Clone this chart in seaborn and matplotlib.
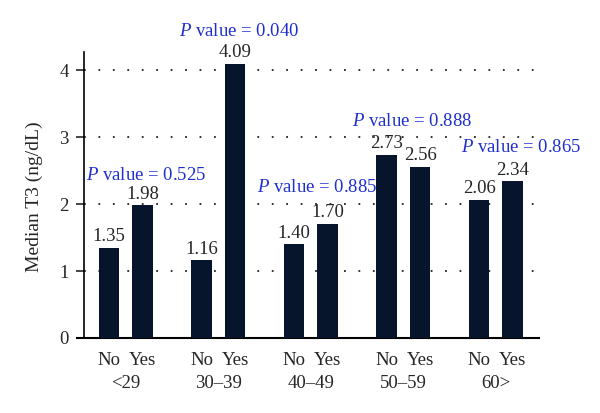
import matplotlib
matplotlib.use("Agg")
import matplotlib.pyplot as plt
import matplotlib.transforms as mtransforms
import seaborn as sns
import pandas as pd

groups = ["<29", "30\u201339", "40\u201349", "50\u201359", "60>"]
status = ["No", "Yes"]
no_vals = [1.35, 1.16, 1.40, 2.73, 2.06]
yes_vals = [1.98, 4.09, 1.70, 2.56, 2.34]
p_labels = ["0.525", "0.040", "0.885", "0.888", "0.865"]
p_pos = [(0.22, 2.36), (0.22, 4.51), (0.07, 2.18), (0.09, 3.16), (0.27, 2.78)]

rows = []
for g, n, y in zip(groups, no_vals, yes_vals):
    rows.append({"group": g, "status": "No", "value": n})
    rows.append({"group": g, "status": "Yes", "value": y})
df = pd.DataFrame(rows)

sns.set_style("white")
plt.rcParams["font.family"] = ["Liberation Serif", "DejaVu Serif"]
plt.rcParams["mathtext.fontset"] = "custom"
plt.rcParams["mathtext.it"] = "Liberation Serif:italic"
plt.rcParams["mathtext.rm"] = "Liberation Serif"

fig = plt.figure(figsize=(6, 4.13), dpi=100)
ax = fig.add_axes([0.14, 0.1816, 0.758, 0.6924])

navy = "#06142c"
sns.barplot(data=df, x="group", y="value", hue="status", order=groups,
            hue_order=status, palette=[navy, navy], width=0.724, gap=0.387,
            saturation=1, legend=False, ax=ax, zorder=3, linewidth=0)

ax.set_xlim(-0.454, 4.465)
ax.set_ylim(0, 4.27)
ax.set_yticks([0, 1, 2, 3, 4])
ax.set_yticklabels(["0", "1", "2", "3", "4"], fontsize=13.5)
for yv in [1, 2, 3, 4]:
    ax.axhline(yv, color="#222222", lw=1.3, linestyle=(0, (1, 7.0)), zorder=1)

off = 0.181
xt, xl = [], []
for i in range(len(groups)):
    xt += [i - off, i + off]
    xl += ["No", "Yes"]
ax.set_xticks(xt)
ax.set_xticklabels(xl, fontsize=13.5)
ax.tick_params(axis="x", length=0, pad=10)
ax.tick_params(axis="y", length=6, width=1.2, direction="out", left=True, pad=5)

trans = mtransforms.blended_transform_factory(ax.transData, fig.transFigure)
for i, g in enumerate(groups):
    ax.text(i, 1 - 383 / 413, g, transform=trans, ha="center", va="center", fontsize=13.5)

for i, (n, y) in enumerate(zip(no_vals, yes_vals)):
    ax.text(i - off, n + 0.1, f"{n:.2f}", ha="center", va="baseline", fontsize=13.5)
    ax.text(i + off, y + 0.1, f"{y:.2f}", ha="center", va="baseline", fontsize=13.5)

blue = "#1f2fcf"
for i, (pl, (dx, py)) in enumerate(zip(p_labels, p_pos)):
    ax.text(i + dx, py, f"$\\it{{P}}$ value = {pl}", ha="center", va="baseline",
            fontsize=13.5, color=blue, clip_on=False)

for s in ["top", "right"]:
    ax.spines[s].set_visible(False)
ax.spines["left"].set_color("black")
ax.spines["left"].set_linewidth(1.2)
ax.spines["bottom"].set_color("black")
ax.spines["bottom"].set_linewidth(1.5)
ax.spines["bottom"].set_bounds(-0.53, 4.465)

ax.set_xlabel("")
ax.set_ylabel("Median T3 (ng/dL)", fontsize=14)
ax.yaxis.set_label_coords(-0.09, 0.495)

fig.savefig("out.png", dpi=100)
